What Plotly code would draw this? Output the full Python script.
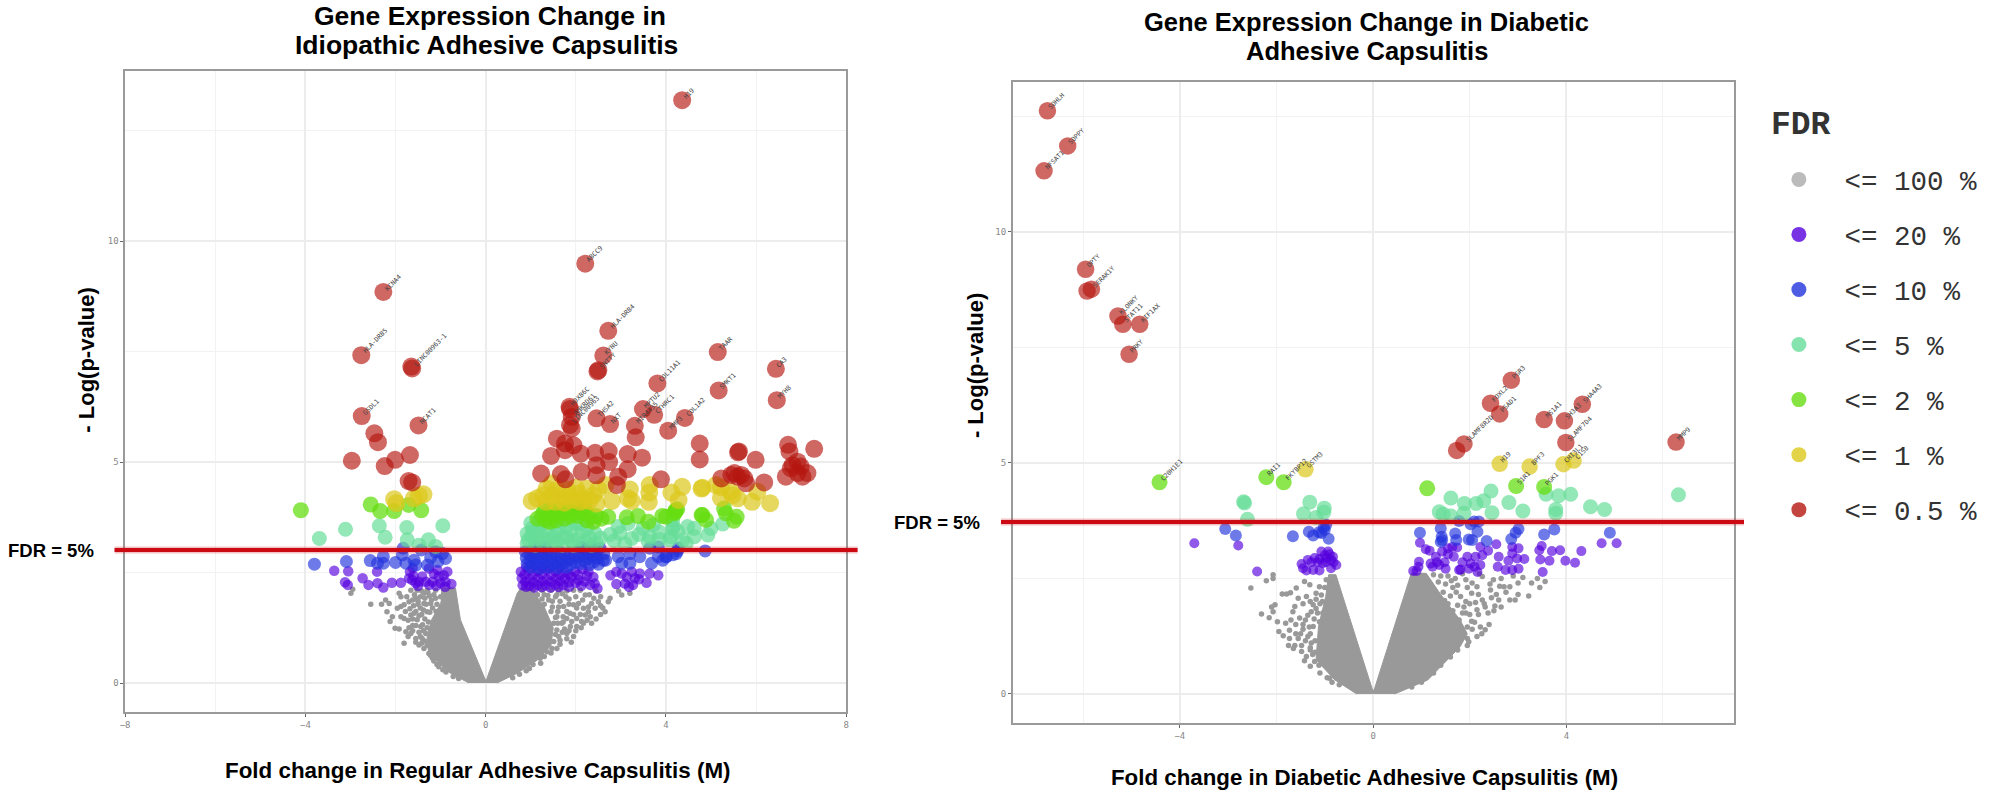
import plotly.graph_objects as go

FDR_CLASSES = ["<= 100 %", "<= 20 %", "<= 10 %", "<= 5 %", "<= 2 %", "<= 1 %", "<= 0.5 %"]
COLORS = ["#999999", "#5500dd", "#2233dd", "#66dd99", "#66dd11", "#dcc81a", "#b5150f"]
OPACITY = [1.0, 0.65, 0.65, 0.7, 0.75, 0.7, 0.65]
LEGEND_COLORS = ["#bbbbbb", "#5500dd", "#2233dd", "#66dd99", "#66dd11", "#dcc81a", "#b5150f"]
THRESHOLD_L = 3.01
THRESHOLD_R = 3.72

# ---- left panel (Idiopathic) : (M, -log p)
L_GRAY_CORE = [(-0.37,0),(-0.78,0.22),(-1.04,0.45),(-1.27,0.72),(-1.30,1.05),(-1.20,1.43),(-1.0,1.8),(-0.92,2.15),(-0.67,2.15),
               (-0.56,1.43),(-0.01,0.08),(0.02,0.08),(0.70,2.03),(0.78,2.15),(1.0,2.15),(1.3,1.72),(1.5,1.25),(1.45,0.85),(1.15,0.52),(0.7,0.22),(0.25,0)]
L_GRAY = [(-2.95,2.12),(-2.99,2.03),(-2.55,1.78),(-2.31,1.78),(-2.22,1.88),(-2.14,1.80),(-2.19,1.61),(-2.12,1.39),(-2.07,1.50),(-2.01,1.24),
          (-1.92,1.22),(-1.81,.90),(-1.77,1.16),(-1.88,1.73),(-1.96,1.69),(-1.81,1.77),(-1.70,1.84),(-1.55,1.92),(-1.92,2.03),(-1.88,1.95),
          (-1.37,2.03),(-1.37,1.80),(-1.59,1.58),(-1.52,1.43),(-1.44,1.28),(-1.33,1.12),(-1.48,.86),(-1.37,.78),(-1.26,.67),(-1.18,.56),(-1.04,.37),
          (-1.66,1.12),(-1.55,1.01),(-1.41,1.01),(-1.30,1.61),(-1.22,1.80),(-1.11,1.92),(-1.66,1.54),(-1.81,1.46),(-1.88,1.50),(-1.0,1.95),(-.93,2.03),
          (-1.66,2.10),(-1.52,2.1),(-1.30,2.1),(-1.11,2.1),(-.93,2.1),(-.78,2.1),(-1.45,1.70),(-1.50,1.85),(-1.60,1.75),(-1.25,1.97),(-1.42,1.55),(-1.62,1.30),(-1.48,1.15),
          (-1.15,2.0),(-1.28,2.05),(-1.42,2.08),(-1.58,2.0),(-1.75,1.95),(-1.20,1.88),(-1.35,1.92),(-1.45,1.95),(-1.62,1.88),(-1.08,1.78),(-1.18,1.70),(-1.32,1.78),(-1.50,1.78),
          (-1.68,1.68),(-1.78,1.62),(-1.10,1.62),(-1.24,1.60),(-1.38,1.65),(-1.55,1.62),(-1.72,1.42),(-1.62,1.45),(-1.48,1.52),(-1.35,1.45),(-1.27,1.38),(-1.40,1.32),(-1.55,1.30),
          (-1.70,1.25),(-1.30,1.25),(-1.38,1.18),(-1.45,1.05),(-1.62,1.18),(-1.72,1.05),(-1.55,.92),(-1.42,.90),(-1.35,.95),(-1.30,.85),(-1.22,.62),(-1.15,.50),(-1.08,.42),(-.95,.30),(-.88,.25),(-.72,.15),(-.60,.10),
          (2.76,1.92),(2.72,1.84),(2.65,1.61),(2.50,1.84),(2.43,1.69),(2.28,1.61),(2.21,1.54),(2.13,1.39),(2.17,1.35),(1.95,1.05),(1.80,1.12),(1.65,.97),(1.51,.94),
          (1.47,.78),(1.36,.71),(1.21,.56),(.97,.33),(3.02,1.99),(3.20,2.03),(1.95,2.10),(2.10,2.10),(2.21,1.99),(1.95,1.77),(1.73,1.73),(1.87,1.58),(2.02,1.46),
          (1.69,1.35),(1.80,1.46),(1.58,1.20),(1.62,1.05),(1.43,1.20),(1.51,1.35),(2.02,1.28),(1.91,1.39),(2.17,1.69),(2.06,1.80),(2.35,1.80),(1.55,1.95),(1.70,2.02),
          (1.85,1.90),(1.60,1.62),(1.72,1.50),(1.55,1.48),(1.48,1.72),(1.40,1.88),(1.30,2.0),(2.30,2.0),(2.45,2.08),(1.75,1.22),(1.85,1.18),(1.60,1.35),(2.55,1.95),(2.95,2.08),
          (.85,2.1),(1.05,2.08),(1.25,2.1),(1.45,2.1),(1.62,2.1),(1.8,2.08),(1.15,2.0),(1.38,1.98),(1.58,2.0),(1.78,1.95),(2.0,1.95),(2.15,1.88),(2.40,1.92),(1.25,1.9),(1.48,1.85),(1.65,1.85),
          (1.85,1.78),(2.02,1.70),(2.28,1.72),(2.55,1.75),(1.30,1.78),(1.45,1.62),(1.62,1.72),(1.80,1.62),(1.95,1.55),(2.10,1.55),(2.32,1.50),(2.45,1.45),(1.58,1.50),(1.72,1.38),(1.88,1.28),(2.0,1.18),
          (2.12,1.25),(1.70,1.15),(1.80,1.0),(1.90,.92),(1.55,1.10),(1.65,.88),(1.58,.78),(1.45,.68),(1.30,.60),(1.22,.45),(1.05,.42),(.90,.28),(.75,.2),(.60,.12),(2.6,1.7),(2.35,1.35),(2.25,1.42),(2.55,1.55)]
L_PURPLE = [(-3.36,2.54),(-3.05,2.53),(-2.41,2.52),(-2.73,2.37),(-3.12,2.28),(-3.06,2.22),(-2.60,2.22),(-2.40,2.26),(-2.27,2.16),(-2.08,2.27),(-1.88,2.27),
            (-1.68,2.52),(-1.63,2.33),(-1.48,2.29),(-1.33,2.29),(-1.18,2.29),(-1.0,2.26),(-.76,2.24),(-.93,2.44),(-1.07,2.56),(-1.26,2.59),(-1.41,2.41),(-1.55,2.26),
            (-.89,2.29),(-1.70,2.37),(-1.04,2.41),(-1.50,2.20),(-1.25,2.22),(-1.10,2.20),(-.90,2.18),(-1.60,2.42),(-1.15,2.47),(-.85,2.52),(-1.62,2.60),
            (.78,2.52),(.95,2.55),(1.15,2.53),(1.35,2.56),(1.55,2.52),(1.75,2.50),(.80,2.37),(.98,2.36),(1.17,2.38),(1.36,2.35),(1.56,2.37),(1.76,2.36),(.82,2.21),(.97,2.20),
            (1.15,2.22),(1.33,2.21),(1.54,2.23),(1.72,2.21),(.90,2.62),(1.10,2.65),(1.42,2.62),(1.90,2.40),
            (.86,2.45),(1.05,2.44),(1.25,2.46),(1.45,2.45),(1.65,2.44),(1.85,2.46),(.88,2.29),(1.06,2.28),(1.26,2.30),(1.45,2.29),(1.65,2.30),(1.85,2.28),(.90,2.18),(1.08,2.16),(1.25,2.17),(1.44,2.16),
            (1.62,2.17),(1.85,2.18),(2.0,2.27),(2.12,2.2),(2.25,2.42),(2.42,2.25),(2.15,2.58),(1.65,2.62),(1.25,2.62),
            (1.98,2.52),(2.06,2.33),(2.28,2.52),(2.39,2.40),(2.32,2.22),(2.48,2.14),(2.77,2.44),(2.90,2.52),(2.90,2.24),(3.09,2.25),(3.24,2.52),(3.42,2.48),(3.27,2.22),
            (3.31,2.37),(3.57,2.27),(3.64,2.48),(3.83,2.44),(3.13,2.40),(2.05,2.45),(2.20,2.30),(3.02,2.48),(3.40,2.35),(3.18,2.18)]
L_BLUE = [(-3.80,2.69),(-3.09,2.75),(-2.56,2.77),(-2.40,2.71),(-2.27,2.86),(-2.27,2.71),(-2.0,2.73),(-1.83,3.05),(-1.85,2.90),(-1.77,2.71),(-1.59,2.78),(-1.55,2.67),
          (-1.43,3.01),(-1.22,2.84),(-1.29,2.67),(-1.06,2.75),(-.89,2.82),(-1.11,2.97),(-.96,2.93),
          (1.10,3.08),(1.32,3.08),(2.13,3.08),(2.35,3.08),(2.54,3.05),
          (.88,2.97),(1.05,2.95),(1.25,2.98),(1.45,2.94),(1.65,2.96),(1.85,2.93),(2.05,2.97),(2.25,2.95),(2.45,2.96),(2.62,2.92),
          (.90,2.83),(1.08,2.82),(1.28,2.84),(1.47,2.81),(1.67,2.83),(1.87,2.80),(2.07,2.84),(2.27,2.82),(2.47,2.83),(2.66,2.78),
          (.92,2.70),(1.12,2.69),(1.30,2.71),(1.50,2.68),(1.70,2.70),(1.90,2.69),(2.10,2.70),(2.30,2.68),(2.50,2.69),
          (1.0,2.62),(1.2,2.60),(1.4,2.62),(1.6,2.61),(1.8,2.62),
          (.98,2.90),(1.16,2.88),(1.36,2.90),(1.56,2.88),(1.76,2.90),(1.96,2.88),(2.16,2.90),(2.36,2.88),(1.0,2.76),(1.2,2.75),(1.4,2.76),(1.6,2.74),(1.8,2.76),(2.0,2.74),(2.2,2.76),(2.4,2.74),
          (1.05,3.02),(1.3,3.0),(2.2,3.03),(2.4,3.0),
          (2.94,2.86),(3.02,2.71),(3.20,2.71),(3.42,2.86),(3.64,3.05),(3.83,3.08),(3.68,2.71),(3.83,2.86),(4.01,2.86),(4.27,3.05),(4.23,2.93),(2.61,2.78),(3.2,2.93),
          (4.87,2.99),(4.26,2.99),(4.15,2.90),(4.0,2.86),(3.93,2.78)]
L_AQUA = [(-3.69,3.27),(-3.11,3.48),(-2.36,3.56),(-2.23,3.30),(-1.75,3.52),(-1.74,3.24),(-.95,3.56),(-1.27,3.24),(-1.48,3.12),(-1.11,3.09),
          (1.03,3.50),(.92,3.16),(1.14,3.27),(1.36,3.46),(1.58,3.39),(1.58,3.20),(1.80,3.31),(1.98,3.61),(2.13,3.42),(2.20,3.20),(2.43,3.39),(2.46,3.16),(2.76,3.36),
          (2.94,3.54),(3.16,3.61),(2.98,3.39),(3.24,3.27),(3.09,3.15),(3.49,3.50),(3.72,3.58),(3.64,3.31),(3.61,3.20),(4.16,3.54),(4.08,3.24),(1.28,3.16),(1.95,3.12),
          (.92,3.38),(1.03,3.31),(1.36,3.24),(1.80,3.54),(1.15,3.45),(1.60,3.50),(2.25,3.50),(1.10,3.12),(1.70,3.12),
          (1.0,3.62),(1.2,3.66),(1.45,3.62),(1.7,3.66),(1.9,3.45),(2.05,3.25),(2.3,3.3),(2.55,3.28),(1.25,3.33),(1.48,3.30),(1.72,3.28),(1.92,3.22),(1.2,3.56),(1.05,3.42),(.95,3.25),(2.1,3.6),(2.35,3.12),(1.5,3.15),
          (3.4,3.36),(3.85,3.25),(3.85,3.42),(2.85,3.22),
          (4.15,3.69),(4.15,3.50),(4.11,3.31),(4.37,3.24),(4.48,3.54),(4.63,3.50),(4.63,3.31),(4.45,3.16),(4.93,3.35),(5.0,3.50),(5.26,3.60),(4.26,3.43)]
L_GREEN = [(-4.10,3.91),(-2.55,4.04),(-2.34,3.89),(-2.03,3.89),(-1.71,4.03),(-1.43,3.91),
           (1.25,3.80),(1.32,3.69),(1.43,3.91),(1.39,3.80),(1.47,3.76),(1.73,3.84),(1.98,3.99),(2.13,3.87),(2.28,3.80),(2.39,3.65),(2.57,3.72),(2.72,3.76),(3.13,3.75),
           (1.58,3.82),(1.60,3.95),(1.85,3.92),(1.88,3.78),(2.05,3.78),(1.30,3.90),(1.42,3.65),(2.20,3.95),(1.15,3.72),(1.55,3.68),(1.75,3.72),(1.95,3.85),(2.25,3.68),(2.45,3.78),
           (3.38,3.78),(3.61,3.65),(3.92,3.78),(4.20,3.87),(4.25,3.93),(4.79,3.80),(4.22,3.91),(4.19,3.84),(4.0,3.76),(4.81,3.80),(4.89,3.69),(5.29,3.95),(5.33,3.84),(5.57,3.76),(5.51,3.67)]
L_YELLOW = [(-2.03,4.16),(-1.98,4.07),(-1.59,4.18),(-1.38,4.27),(-1.48,4.24),
            (1.02,4.12),(1.14,4.18),(1.47,4.52),(1.28,4.25),(1.47,4.25),(1.69,4.21),(1.87,4.25),(2.06,4.29),(2.24,4.40),(2.39,4.25),(1.91,4.14),(2.17,4.14),(2.66,4.48),
            (1.35,4.10),(1.55,4.10),(1.75,4.08),(2.0,4.42),(1.80,4.38),(2.1,4.1),(2.3,4.12),(2.5,4.38),(1.35,4.40),
            (2.80,4.12),(3.20,4.38),(3.16,4.18),(3.24,4.12),(3.64,4.48),(3.63,4.31),(3.62,4.10),(4.12,4.31),(4.36,4.44),(4.28,4.14),(4.79,4.40),(1.58,4.37),(2.46,4.06),
            (4.81,4.42),(5.11,4.48),(5.22,4.43),(5.44,4.33),(5.22,4.19),(5.59,4.18),(5.48,4.25),(5.91,4.10),(6.03,4.33),(6.31,4.07)]
L_RED = [(-2.27,8.85),(-2.76,7.42),(-1.63,7.12),(-1.65,7.16),(-2.75,6.04),(-2.47,5.65),(-2.39,5.45),(-2.97,5.03),(-2.24,4.91),(-2.01,5.05),(-1.68,5.16),(-1.49,5.83),(-1.71,4.57),(-1.63,4.54),
         (4.36,13.19),(2.21,9.49),(2.72,7.97),(2.61,7.41),(2.50,7.08),(2.48,7.05),(3.81,6.78),(5.15,7.49),(5.17,6.62),(6.44,7.11),(6.46,6.40),(3.49,6.20),(1.86,6.25),(1.87,6.20),
         (1.91,6.02),(1.87,5.84),(1.91,5.76),(1.58,5.53),(1.76,5.42),(1.95,5.38),(1.45,5.14),(1.76,5.27),(2.11,5.19),(2.43,5.21),(2.73,5.25),(2.74,5.00),(2.46,4.93),(3.15,5.18),
         (3.47,5.10),(3.15,4.84),(1.23,4.74),(1.67,4.73),(1.77,4.61),(2.13,4.78),(2.46,4.70),(2.94,4.67),(2.91,4.48),(3.89,4.61),(3.74,6.07),(3.31,5.82),(3.33,5.56),(2.46,5.99),
         (2.76,5.86),(4.05,5.71),(4.42,6.00),(4.75,5.42),(4.75,5.06),(5.62,5.24),(5.60,5.22),(5.99,5.05),(6.18,4.54),(6.71,5.39),(6.74,5.24),(7.29,5.30),(6.92,5.01),(6.81,4.93),
         (6.99,4.90),(6.66,4.67),(6.92,4.75),(7.14,4.75),(7.03,4.67),(6.77,4.86),(5.45,4.71),(5.23,4.63),(5.59,4.67),(5.74,4.63),(5.78,4.52),(5.52,4.75),(5.67,4.71)]
L_LABELS = [(4.36,13.19,"H19"),(2.21,9.49,"ABCC9"),(2.72,7.97,"HLA-DRB4"),(2.61,7.41,"KYNU"),(2.50,7.08,"SNTTY"),(3.81,6.78,"COL11A1"),(5.15,7.49,"TAAR"),(5.17,6.62,"SMKT1"),
            (6.44,7.11,"CA3"),(6.46,6.40,"MYH8"),(3.49,6.20,"MPTU2"),(1.86,6.25,"HOXB6C"),(1.91,6.02,"ANKRD61"),(1.87,5.84,"LINC00963"),(2.46,5.99,"THSA2"),(2.76,5.86,"NXT"),
            (3.74,6.07,"CTHRC1"),(3.31,5.82,"MIR4435"),(4.05,5.71,"MMP3"),(4.42,6.00,"COL1A2"),(-2.27,8.85,"KCNA4"),(-2.76,7.42,"HLA-DRB5"),(-1.63,7.12,"LINC00963-1"),
            (-2.75,6.04,"GSDL1"),(-1.49,5.83,"NCAT1")]

# ---- right panel (Diabetic)
R_GRAY_CORE = [(-0.34,0),(-0.79,0.30),(-1.18,0.74),(-1.13,1.46),(-0.98,2.11),(-0.92,2.58),(-0.77,2.58),(-0.01,0.08),(0.02,0.08),(0.79,2.61),(1.1,2.61),(1.4,2.15),(1.8,1.6),(1.95,1.3),(1.8,1.02),(1.13,0.30),(0.45,0)]
R_GRAY = [(-2.07,2.58),(-2.21,2.45),(-2.53,2.29),(-2.07,2.50),(-1.88,2.16),(-1.79,2.16),(-1.71,2.19),(-1.59,2.29),(-1.42,2.43),(-1.31,2.36),(-2.03,1.93),(-2.10,1.88),(-2.31,1.73),
          (-2.15,1.65),(-2.07,1.78),(-1.98,1.56),(-1.81,1.53),(-1.73,1.38),(-1.86,1.26),(-1.73,1.20),(-1.62,1.89),(-1.55,2.07),(-1.66,1.78),(-1.52,1.64),(-1.28,1.78),(-1.24,1.93),
          (-1.38,2.11),(-1.18,2.18),(-1.07,2.14),(-1.11,2.32),(-.97,2.47),(-.90,2.36),(-1.48,.92),(-1.38,.81),(-1.35,1.24),(-1.55,1.20),(-1.24,1.46),(-1.11,1.56),(-1.04,1.75),(-1.21,.70),(-.90,.34),
          (-1.62,1.05),(-1.45,1.40),(-1.40,1.60),(-1.65,.98),(-1.28,1.10),(-1.30,.95),
          (-1.0,2.3),(-1.18,2.05),(-1.3,2.0),(-1.45,1.95),(-1.1,1.95),(-1.35,1.7),(-1.45,1.5),(-1.6,1.5),(-1.7,1.6),(-1.5,1.3),(-1.6,1.3),(-1.3,1.3),(-1.4,1.15),(-1.48,1.05),(-1.3,1.0),(-1.2,.9),(-1.42,.72),(-1.3,.6),(-1.1,.45),(-.95,.35),(-.7,.2),(-1.95,1.35),(-1.75,1.05),
          (-1.22,1.62),(-1.15,1.75),(-1.2,1.15),(-1.25,.85),(-1.12,.62),(-.85,.25),(-1.18,1.85),(-1.05,2.0),(-1.32,1.45),
          (3.56,2.43),(3.28,2.40),(3.22,2.12),(3.0,2.40),(2.94,2.03),(2.83,2.03),(2.60,2.03),(2.71,2.32),(2.43,2.25),(2.49,2.47),(2.26,2.54),(2.32,1.39),(2.15,1.24),(1.98,1.13),(2.26,2.03),
          (2.15,1.82),(1.92,1.75),(2.04,2.18),(1.81,2.11),(2.38,1.75),(2.04,1.57),(2.15,2.32),(2.83,2.32),(1.92,2.47),(3.1,2.52),(2.9,2.55),(2.2,2.6),(1.85,2.6),(2.05,2.40),(2.30,1.95),(2.52,1.90),(2.45,2.08),
          (1.95,2.30),(2.65,2.50),(1.75,2.35),(2.18,2.15),(3.40,2.50),(2.0,1.95),
          (.9,2.55),(1.05,2.55),(1.25,2.58),(1.40,2.55),(1.55,2.55),(1.70,2.5),(1.15,2.4),(1.35,2.42),(1.5,2.38),(1.65,2.3),(1.25,2.25),(1.45,2.2),(1.6,2.12),(1.72,2.2),(1.35,2.05),(1.55,1.95),(1.75,1.92),(1.92,2.0),
          (2.12,1.98),(1.85,1.75),(2.0,1.72),(1.65,1.80),(1.78,1.60),(1.95,1.45),(2.1,1.55),(2.22,1.45),(2.25,1.30),(2.4,1.50),(2.5,1.8),(2.65,1.88),(2.55,2.15),(2.75,2.2),(3.0,2.15),(3.45,2.3),
          (1.95,1.2),(1.75,.95),(1.6,.8),(1.4,.62),(1.25,.45),(1.0,.25),(.8,.15),(1.85,1.35),(1.95,1.05),(1.7,1.05),(2.05,1.40),(1.62,2.45),(1.48,2.02),(1.88,1.88),(2.18,1.72),(2.32,1.88),(2.42,2.38),(2.62,2.33),(1.58,1.68),(1.72,1.42)]
R_PURPLE = [(-3.70,3.26),(-2.79,3.21),(-2.40,2.65),(-1.48,2.81),(-1.38,2.67),(-1.11,2.67),(-1.35,2.90),(-1.21,2.94),(-1.07,3.08),(-.93,3.08),(-.83,2.97),(-1.11,2.92),(-.97,2.94),(-.87,2.90),(-.76,2.79),(-.87,2.72),(-1.04,2.83),(-1.24,2.68),
            (-1.0,3.0),(-.90,3.02),(-1.15,2.85),(-.98,2.85),(-.82,2.85),(-1.28,2.85),(-1.45,2.72),
            (.97,3.27),(1.09,3.13),(1.17,3.10),(1.19,2.82),(.95,2.86),(.94,2.75),(.83,2.66),(.90,2.66),(1.43,3.08),(1.37,2.79),(1.50,2.71),(1.64,3.18),(1.74,3.17),(1.67,2.97),(1.81,2.69),(1.95,2.97),
            (2.02,2.82),(2.12,2.97),(2.22,3.18),(2.26,3.0),(2.22,2.79),(2.16,2.64),(2.55,3.24),(2.60,2.97),(2.58,2.75),(2.74,2.68),(2.88,2.68),(2.88,3.18),(2.88,3.04),(2.98,2.93),(3.01,3.15),(3.13,2.92),
            (3.01,2.71),(3.44,3.11),(3.49,3.20),(3.46,2.91),(3.65,2.88),(3.70,3.09),(3.87,3.11),(3.98,2.88),(4.18,2.84),(4.31,3.09),(4.73,3.26),(5.04,3.26),(3.51,2.64),(1.30,2.97),(1.23,2.75),(1.78,2.68),(1.98,2.71),
            (1.55,3.02),(1.48,2.85),(1.85,2.85),(2.10,2.75),(1.55,3.15),(1.32,2.85),(2.38,3.10),(2.80,2.88)]
R_BLUE = [(-3.06,3.57),(-2.84,3.43),(-1.66,3.41),(-1.33,3.51),(-1.24,3.43),(-1.07,3.48),(-1.0,3.55),(-.97,3.66),(-.92,3.36),(-1.02,3.60),(-1.12,3.50),
          (.97,3.49),(1.40,3.58),(1.42,3.40),(1.40,3.29),(1.70,3.47),(1.78,3.74),(1.72,3.33),(1.98,3.34),(2.09,3.73),(2.19,3.73),(2.16,3.51),(2.05,3.33),(2.35,3.31),(3.01,3.57),(2.95,3.49),(2.86,3.35),(3.54,3.45),(3.75,3.56),(4.90,3.49),(1.43,3.33),(2.02,3.67)]
R_AQUA = [(-2.68,4.16),(-2.66,4.13),(-2.60,3.78),(-1.31,4.15),(-1.01,4.02),(-1.02,3.93),(-1.44,3.90),(-1.18,3.82),
          (1.61,4.24),(1.89,4.12),(2.13,4.12),(2.29,4.18),(2.44,4.39),(2.81,4.14),(3.10,3.96),(2.46,3.92),(1.88,3.91),(1.37,3.94),(1.45,3.89),(1.61,3.85),(3.58,4.32),(3.84,4.29),(4.09,4.32),(3.78,3.99),(3.78,3.91),(4.50,4.05),(4.79,3.99),(6.32,4.31)]
R_GREEN = [(-4.42,4.58),(-2.21,4.69),(-1.85,4.58),(1.12,4.45),(2.96,4.50),(3.54,4.48)]
R_YELLOW = [(-1.40,4.86),(2.62,4.98),(3.24,4.92),(3.94,4.97),(4.15,5.05)]
R_RED = [(-6.74,12.62),(-6.32,11.86),(-6.81,11.32),(-5.95,9.19),(-5.92,8.72),(-5.83,8.76),(-5.28,8.18),(-5.18,8.0),(-4.83,8.0),(-5.05,7.35),
         (2.86,6.79),(2.43,6.29),(2.62,6.06),(3.54,5.94),(3.96,5.91),(4.33,6.27),(3.99,5.44),(6.27,5.45),(1.73,5.27),(1.88,5.41)]
R_LABELS = [(-6.74,12.62,"SOHLH"),(-6.32,11.86,"SOPPY"),(-6.81,11.32,"NFSAT1"),(-5.95,9.19,"OPTY"),(-5.83,8.76,"SERAK1Y"),(-5.28,8.18,"KLONKY"),(-5.18,8.0,"STAT11"),(-4.83,8.0,"KIF1AX"),(-5.05,7.35,"PRKY"),
            (-4.42,4.58,"C20H1E1"),(-2.21,4.69,"RAI1"),(-1.85,4.58,"FKYBP12"),(-1.40,4.86,"GSTM3"),(2.86,6.79,"PGR3"),(2.43,6.29,"FOXL2"),(2.62,6.06,"PSAD1"),(3.54,5.94,"MS1A1"),(3.96,5.91,"SH3A3"),
            (4.33,6.27,"SHA4A3"),(3.99,5.44,"SLAMF7D4"),(6.27,5.45,"MMP9"),(1.88,5.41,"SLAMF8R2D"),(2.62,4.98,"H19"),(3.24,4.92,"BPF3"),(3.94,4.97,"CHI3L1"),(4.15,5.05,"C1S8"),(2.96,4.50,"S1R1"),(3.54,4.48,"PGK1")]

L_XTICKS = [-8, -4, 0, 4, 8]
R_XTICKS = [-4, 0, 4]
YTICKS = [0, 5, 10]
W, H = 1992, 792
SIZES_L = [5.5, 10.5, 13, 15, 16, 18, 18]
SIZES_R = [5.5, 10, 12, 15, 16, 16.5, 17.5]

fig = go.Figure()

def split(pts):
    return [p[0] for p in pts], [p[1] for p in pts]

def panel(core, groups, sizes, xa, ya):
    cx, cy = split(core)
    fig.add_trace(go.Scatter(x=cx, y=cy, mode="lines", fill="toself", fillcolor=COLORS[0],
                             line=dict(color=COLORS[0], width=1), xaxis=xa, yaxis=ya,
                             showlegend=False, hoverinfo="skip"))
    for i, pts in enumerate(groups):
        x, y = split(pts)
        fig.add_trace(go.Scatter(x=x, y=y, mode="markers", xaxis=xa, yaxis=ya, showlegend=False,
                                 marker=dict(color=COLORS[i], size=sizes[i], opacity=OPACITY[i], line=dict(width=0)),
                                 name=FDR_CLASSES[i]))

panel(L_GRAY_CORE, [L_GRAY, L_PURPLE, L_BLUE, L_AQUA, L_GREEN, L_YELLOW, L_RED], SIZES_L, "x", "y")
panel(R_GRAY_CORE, [R_GRAY, R_PURPLE, R_BLUE, R_AQUA, R_GREEN, R_YELLOW, R_RED], SIZES_R, "x2", "y2")

for i, name in enumerate(FDR_CLASSES):
    fig.add_trace(go.Scatter(x=[None], y=[None], mode="markers", name="\u00a0" + name, legendgroup=name, showlegend=True,
                             xaxis="x2", yaxis="y2",
                             marker=dict(color=LEGEND_COLORS[i], size=15, opacity=0.8 if i else 1, line=dict(width=0))))

def axis(domain, rng, ticks, minor, anchor):
    return dict(domain=domain, range=rng, anchor=anchor, tickmode="array", tickvals=ticks,
                showgrid=True, gridcolor="#ececec", gridwidth=1.5, zeroline=False,
                showline=True, mirror=True, linecolor="#9a9a9a", linewidth=1.5,
                ticks="outside", ticklen=3, tickcolor="#666", tickwidth=1,
                tickfont=dict(family="DejaVu Sans Mono", size=9, color="#888888"),
                minor=dict(tickvals=minor, showgrid=True, gridcolor="#f2f2f2", gridwidth=1, ticks=""))

layout_annots = []
def text(x, y, s, size, angle=0, anchor="center", family="Liberation Sans", color="#000000"):
    layout_annots.append(dict(xref="paper", yref="paper", x=x / W, y=1 - y / H, text=s, showarrow=False,
                              xanchor=anchor, yanchor="middle", textangle=angle,
                              font=dict(family=family, size=size, color=color)))

text(487, 16, "<b>Gene Expression Change in</b>", 26.5)
text(483, 45, "<b>Idiopathic Adhesive Capsulitis</b>", 26.5)
text(1367, 22, "<b>Gene Expression Change in Diabetic</b>", 25.5)
text(1367, 51, "<b>Adhesive Capsulitis</b>", 25.5)
text(81, 360, "<b>- Log(p-value)</b>", 22, angle=-90)
text(974, 366, "<b>- Log(p-value)</b>", 22, angle=-90)
text(475, 770, "<b>Fold change in Regular Adhesive Capsulitis (M)</b>", 22.4)
text(1365, 777, "<b>Fold change in Diabetic Adhesive Capsulitis (M)</b>", 22.3)
text(46, 550, "<b>FDR = 5%</b>", 18.5)
text(936, 522, "<b>FDR = 5%</b>", 18.5)
text(1803, 125, "<b>FDR</b>", 33, family="Liberation Mono", color="#333333")

def labels(items, xref, yref):
    for x, y, s in items:
        off = 2 + len(s) * 4.2 * 0.707 / 2
        layout_annots.append(dict(xref=xref, yref=yref, x=x, y=y, text=s, showarrow=False, textangle=-45,
                                  xanchor="center", yanchor="middle", xshift=off, yshift=off,
                                  font=dict(family="DejaVu Sans Mono", size=6.5, color="#444444")))
labels(L_LABELS, "x", "y")
labels(R_LABELS, "x2", "y2")

line = dict(color="#cc0a14", width=4)
halo = dict(color="rgba(204,10,20,0.25)", width=7)
shapes = []
for xs, ref, val in [((110 / W, 856 / W), "y", THRESHOLD_L), ((1000 / W, 1746 / W), "y2", THRESHOLD_R)]:
    for style in (halo, line):
        shapes.append(dict(type="line", xref="paper", yref=ref, x0=xs[0], x1=xs[1], y0=val, y1=val, line=style, layer="above"))

fig.update_layout(
    width=W, height=H, autosize=False, margin=dict(l=0, r=0, t=0, b=0),
    paper_bgcolor="white", plot_bgcolor="white",
    xaxis=axis([120.6 / W, 844.6 / W], [-8, 8], L_XTICKS, [-6, -2, 2, 6], "y"),
    yaxis=axis([1 - 712 / H, 1 - 71 / H], [-0.656, 13.85], YTICKS, [2.5, 7.5, 12.5], "x"),
    xaxis2=axis([1011.7 / W, 1736 / W], [-7.46, 7.47], R_XTICKS, [-6, -2, 2, 6], "y2"),
    yaxis2=axis([1 - 723 / H, 1 - 81.7 / H], [-0.63, 13.25], YTICKS, [2.5, 7.5, 12.5], "x2"),
    annotations=layout_annots, shapes=shapes,
    legend=dict(x=1772 / W, y=1 - 155 / H, xanchor="left", yanchor="top", tracegroupgap=16.3, itemsizing="trace",
                itemwidth=48, bgcolor="rgba(0,0,0,0)",
                font=dict(family="Liberation Mono", size=27.5, color="#333333")),
)

fig.write_html("out.html", post_script="document.body.style.margin='0';", config={"displayModeBar": False})
